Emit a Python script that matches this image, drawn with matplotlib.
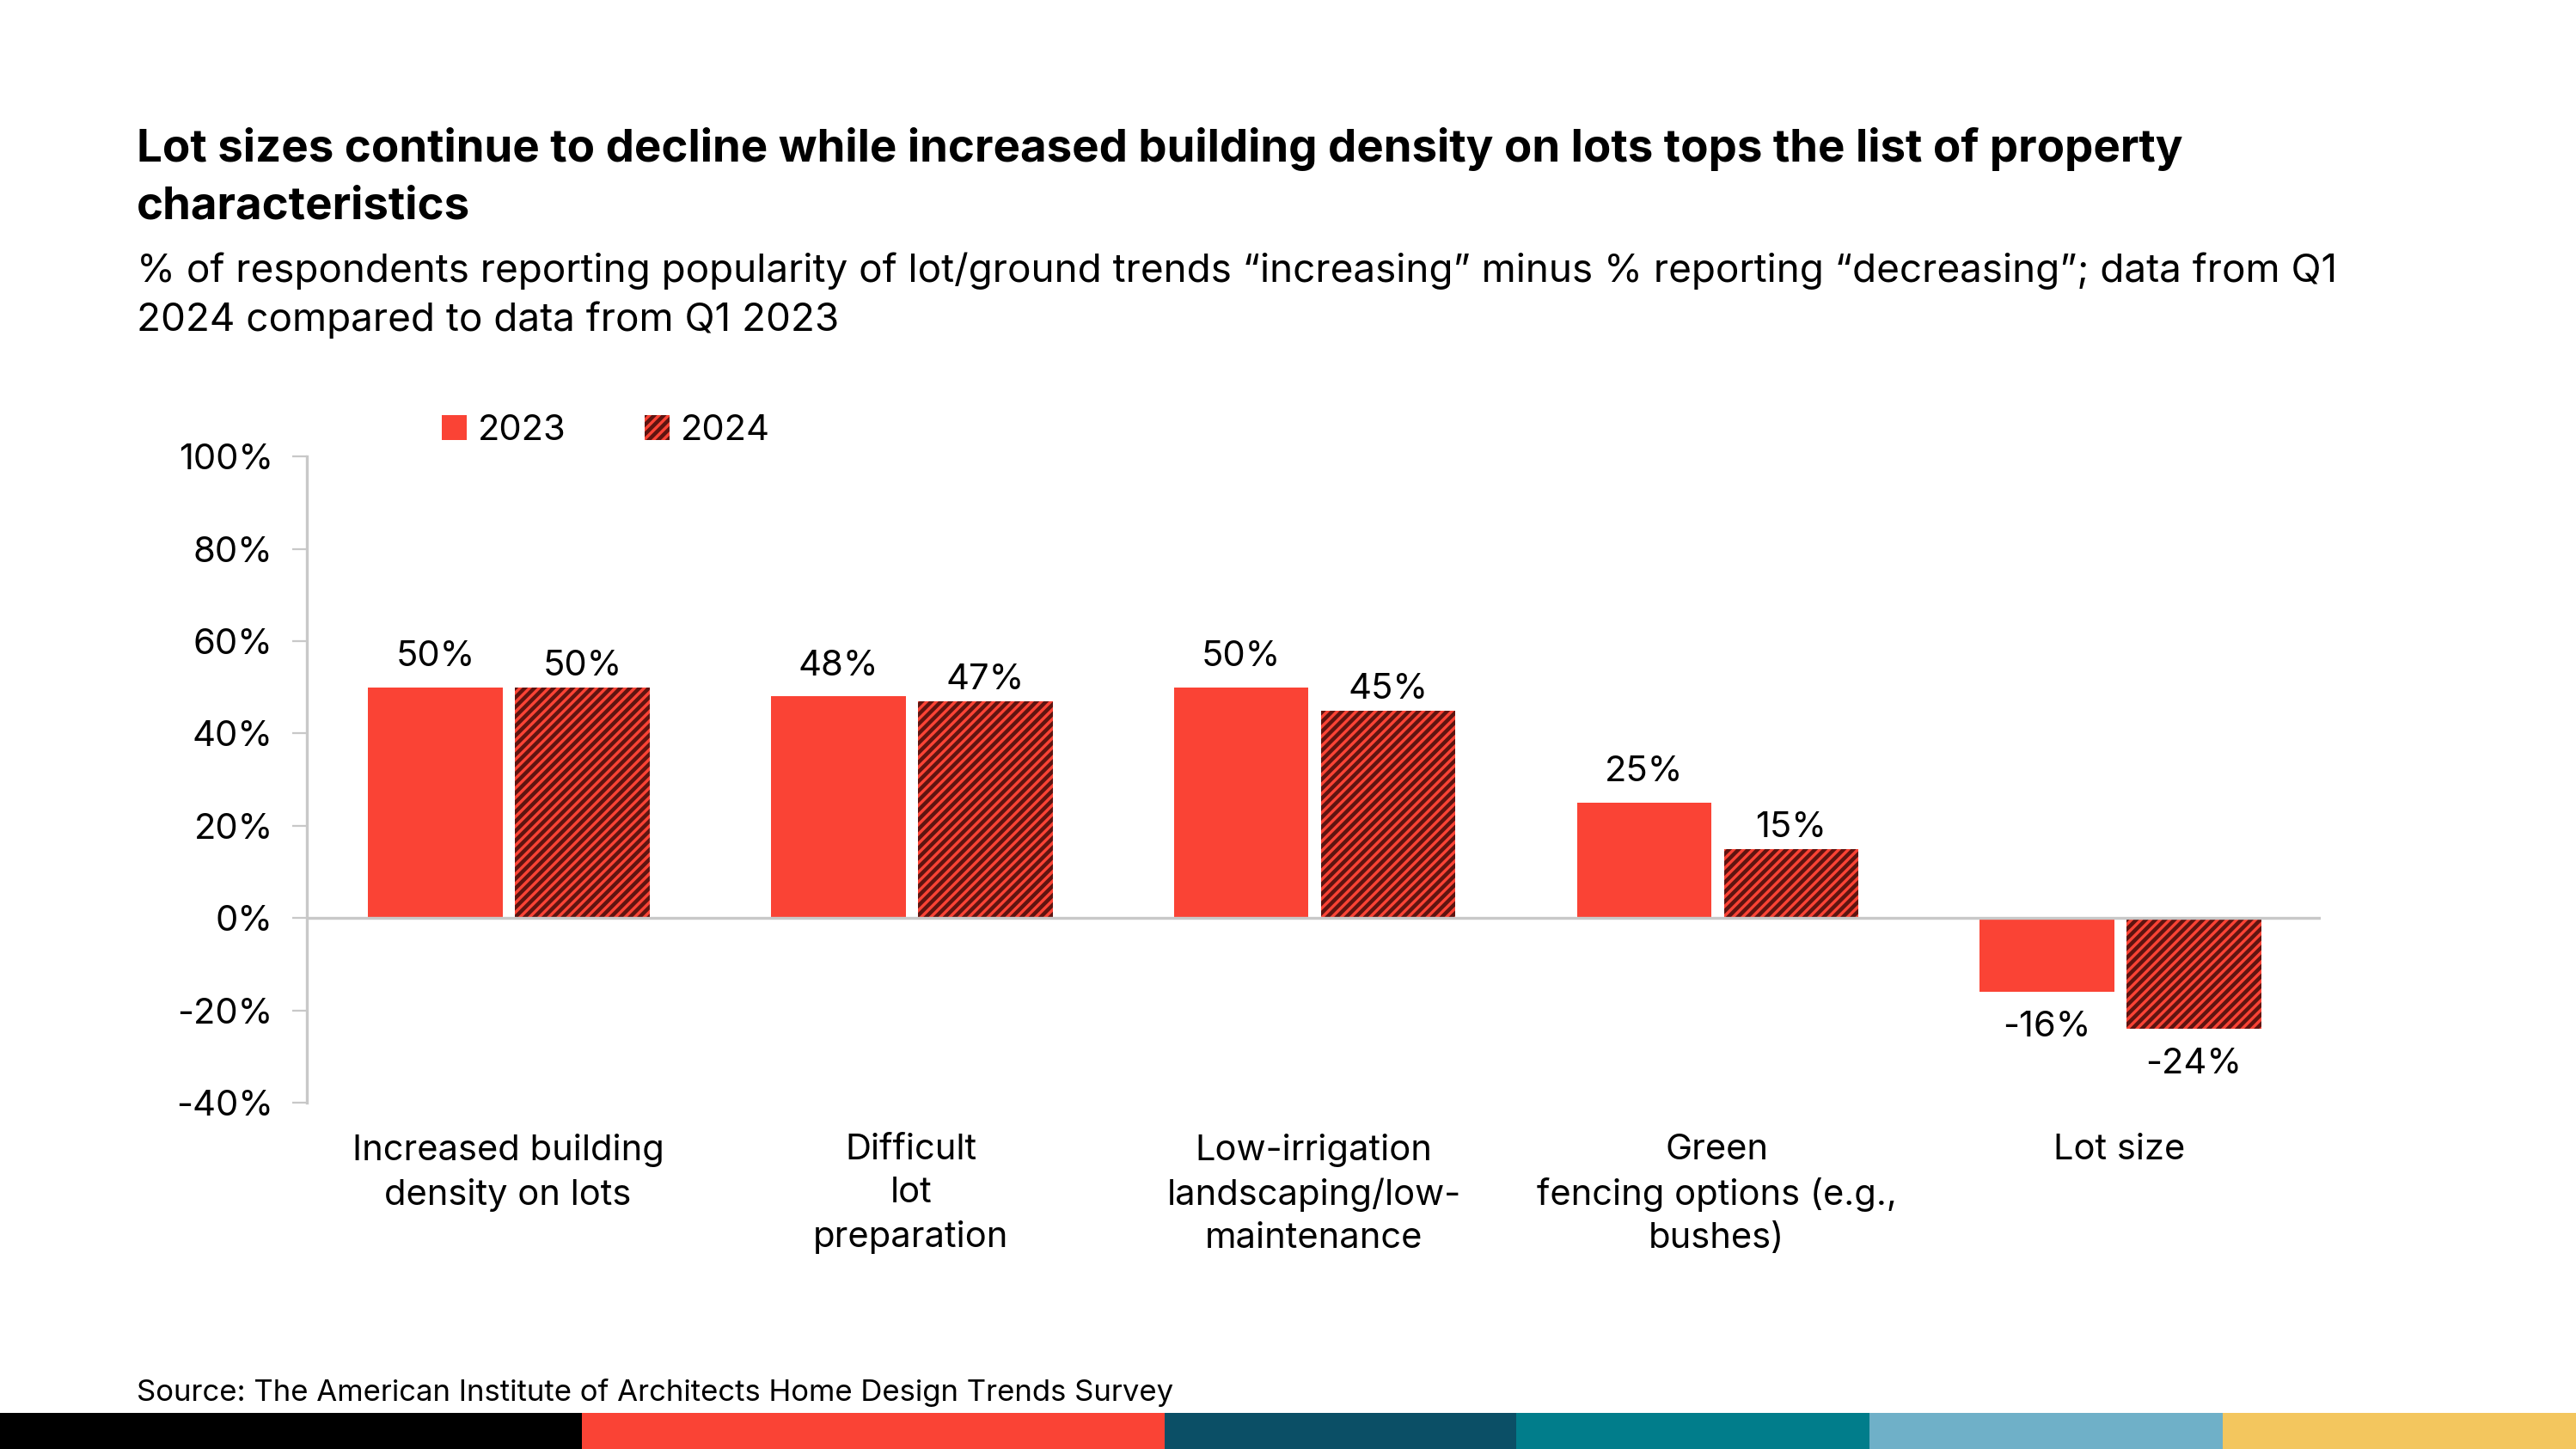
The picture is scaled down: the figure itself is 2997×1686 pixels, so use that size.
import numpy as np
import matplotlib.pyplot as plt
from matplotlib.patches import Rectangle, Patch

plt.rcParams['font.family'] = ['Inter', 'DejaVu Sans']
plt.rcParams['hatch.linewidth'] = 1.6

categories = ["Increased building\ndensity on lots", "Difficult\nlot\npreparation",
              "Low-irrigation\nlandscaping/low-\nmaintenance", "Green\nfencing options (e.g.,\nbushes)",
              "Lot size"]
vals_2023 = [50, 48, 50, 25, -16]
vals_2024 = [50, 47, 45, 15, -24]
yticks = [-40, -20, 0, 20, 40, 60, 80, 100]

red = '#fa4335'
dark = '#5e1410'

fig = plt.figure(figsize=(14.985, 8.43), dpi=200)
ax = fig.add_axes([0.119, 0.239, 0.782, 0.446])

x = np.arange(len(categories))
w = 0.334
b1 = ax.bar(x - 0.18, vals_2023, w, color=red, linewidth=0)
b2 = ax.bar(x + 0.185, vals_2024, w, color=red, edgecolor=dark, linewidth=0, hatch='//////')

for rects, vals, up in ((b1, vals_2023, 6), (b2, vals_2024, 2)):
    for r, v in zip(rects, vals):
        cx = r.get_x() + r.get_width() / 2
        if v >= 0:
            ax.annotate(f"{v}%", (cx, v), xytext=(0, up), textcoords='offset points',
                        ha='center', va='bottom', fontsize=15)
        else:
            ax.annotate(f"{v}%", (cx, v), xytext=(0, -8), textcoords='offset points',
                        ha='center', va='top', fontsize=15)

ax.set_xlim(-0.5, 4.5)
ax.set_ylim(-40, 100)
ax.set_yticks(yticks)
ax.set_yticklabels([f"{t}%" for t in yticks], fontsize=15)
ax.set_xticks(x)
ax.set_xticklabels(categories, fontsize=15, linespacing=1.4, va='top')
ax.tick_params(axis='x', length=0, pad=13)
ax.tick_params(axis='y', length=6, color='#c8c8c8', pad=8)
ax.axhline(0, color='#c8c8c8', linewidth=1.2)
for s in ('top', 'right', 'bottom'):
    ax.spines[s].set_visible(False)
ax.spines['left'].set_color('#c8c8c8')
ax.spines['left'].set_linewidth(1.2)

handles = [Patch(facecolor=red, linewidth=0),
           Patch(facecolor=red, edgecolor=dark, linewidth=0, hatch='//////')]
fig.legend(handles, ['2023', '2024'], loc='center left', bbox_to_anchor=(0.159, 0.703),
           ncol=2, frameon=False, fontsize=15, handlelength=0.7, handleheight=0.7,
           handletextpad=0.3, columnspacing=2.2)

fig.text(0.053, 0.912, "Lot sizes continue to decline while increased building density on lots tops the list of property\ncharacteristics",
         fontsize=19, fontweight='bold', va='top', linespacing=1.45)
fig.text(0.053, 0.826, "% of respondents reporting popularity of lot/ground trends \u201cincreasing\u201d minus % reporting \u201cdecreasing\u201d; data from Q1\n2024 compared to data from Q1 2023",
         fontsize=16.5, va='top', linespacing=1.4)
fig.text(0.053, 0.039, "Source: The American Institute of Architects Home Design Trends Survey",
         fontsize=12.5, va='center')

# colour strip along the bottom edge
strip = [(0, 354, '#000000'), (354, 709, '#fa4335'), (709, 923, '#0b4f66'),
         (923, 1138, '#017d8b'), (1138, 1353, '#6fb0c8'), (1353, 1568, '#f3c65e')]
for a, b, c in strip:
    fig.patches.append(Rectangle((a / 1568, 0), (b - a) / 1568, 22 / 882,
                                 transform=fig.transFigure, color=c, linewidth=0))

fig.savefig('out.png', dpi=200)
